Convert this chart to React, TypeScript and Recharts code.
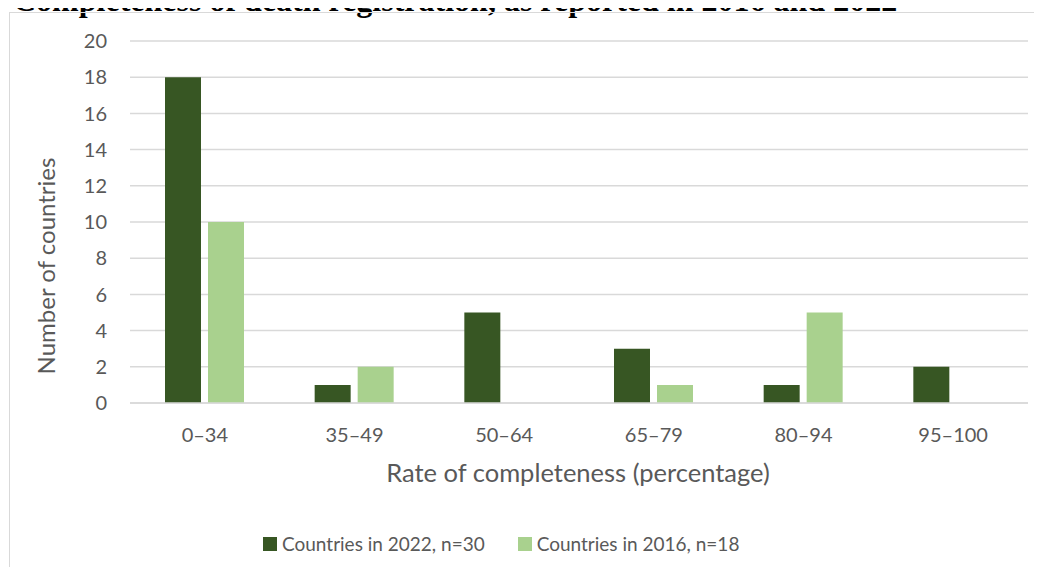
import { BarChart, Bar, XAxis, YAxis, CartesianGrid, Legend } from "recharts";

const categories = ["0–34", "35–49", "50–64", "65–79", "80–94", "95–100"];
const countries2022 = [18, 1, 5, 3, 1, 2];
const countries2016 = [10, 2, 0, 1, 5, 0];
const yTicks = [0, 2, 4, 6, 8, 10, 12, 14, 16, 18, 20];

const DARK = "#375623";
const LIGHT = "#a9d18e";
const TEXT = "#595959";
const GRID = "#d9d9d9";
const FONT = "Lato, 'Open Sans', sans-serif";

const data = categories.map((c, i) => ({
  name: c,
  a2022: countries2022[i],
  b2016: countries2016[i],
}));

function LegendContent({ payload }: any) {
  return (
    <div style={{ display: "flex", alignItems: "center", fontFamily: FONT, fontSize: 19, color: TEXT }}>
      {(payload || []).map((p: any, i: number) => (
        <div key={i} style={{ display: "flex", alignItems: "center", marginRight: 33 }}>
          <span style={{ width: 14, height: 14, background: p.color, marginRight: 5, display: "inline-block" }} />
          <span>{p.value}</span>
        </div>
      ))}
    </div>
  );
}

export default function App() {
  return (
    <div style={{ position: "relative", margin: -8, width: 1042, height: 575, overflow: "hidden", background: "#fff" }}>
      <div
        style={{
          position: "absolute",
          left: 13,
          top: -16.5,
          fontFamily: "'Liberation Serif', 'Times New Roman', serif",
          fontWeight: "bold",
          fontSize: 32,
          lineHeight: 1,
          whiteSpace: "nowrap",
          color: "#000",
        }}
      >
        Completeness of death registration, as reported in 2016 and 2022
      </div>
      <div
        style={{
          position: "absolute",
          left: 9,
          top: 12,
          width: 1040,
          height: 570,
          border: `1px solid ${GRID}`,
          boxSizing: "border-box",
        }}
      />
      <div style={{ position: "absolute", left: 0, top: 0 }}>
        <BarChart
          width={1042}
          height={575}
          data={data}
          margin={{ top: 41, right: 14, left: 0, bottom: 0 }}
          barSize={36}
          barGap={7}
        >
          <CartesianGrid vertical={false} stroke={GRID} strokeWidth={1.5} />
          <XAxis
            dataKey="name"
            height={172}
            tickLine={false}
            tickSize={0}
            tickMargin={25}
            axisLine={{ stroke: GRID, strokeWidth: 1.5 }}
            tick={{ fill: TEXT, fontSize: 20, fontFamily: FONT }}
            label={() => (
              <text x={578} y={482} textAnchor="middle" fill={TEXT} fontSize={25.5} fontFamily={FONT}>
                Rate of completeness (percentage)
              </text>
            )}
          />
          <YAxis
            width={130}
            domain={[0, 20]}
            ticks={yTicks}
            interval={0}
            axisLine={false}
            tickLine={false}
            tickSize={0}
            tickMargin={23}
            tick={{ fill: TEXT, fontSize: 20, fontFamily: FONT }}
            label={() => (
              <text
                x={45}
                y={266}
                transform="rotate(-90 45 266)"
                textAnchor="middle"
                dominantBaseline="central"
                fill={TEXT}
                fontSize={24}
                fontFamily={FONT}
              >
                Number of countries
              </text>
            )}
          />
          <Legend
            layout="horizontal"
            verticalAlign="middle"
            align="center"
            itemSorter="dataKey"
            wrapperStyle={{ left: 263, top: 532, width: 600, height: 24 }}
            content={<LegendContent />}
          />
          <Bar dataKey="a2022" name="Countries in 2022, n=30" fill={DARK} isAnimationActive={false} />
          <Bar dataKey="b2016" name="Countries in 2016, n=18" fill={LIGHT} isAnimationActive={false} />
        </BarChart>
      </div>
    </div>
  );
}
